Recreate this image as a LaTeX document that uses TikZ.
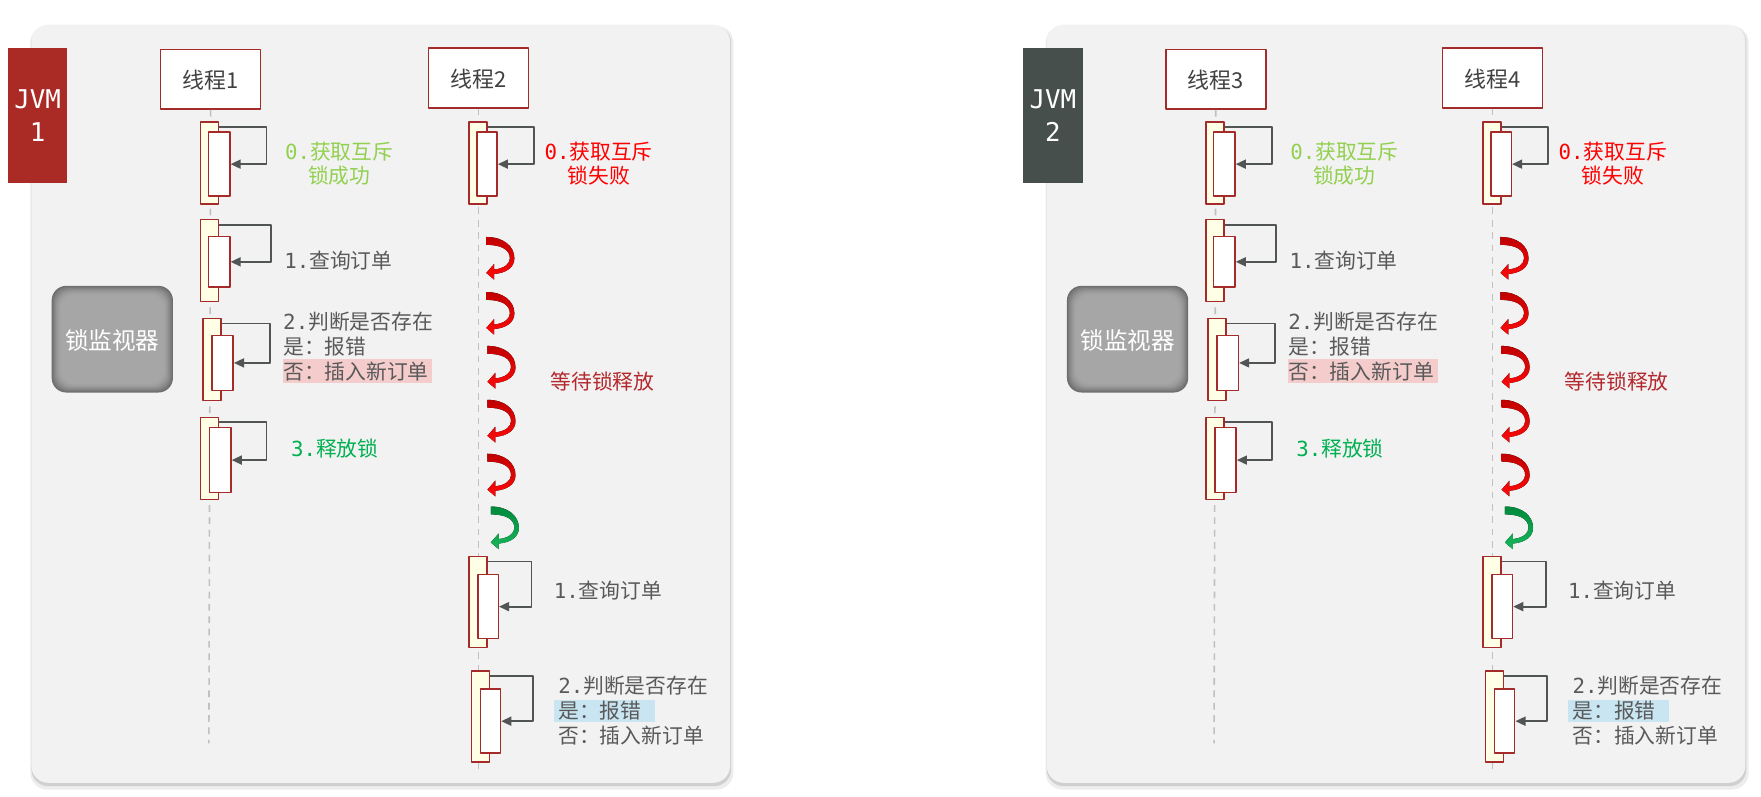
\documentclass[tikz,border=0pt]{standalone}
\usepackage{fontspec}
\setmainfont{Noto Sans CJK SC}
\newfontfamily\mono{DejaVu Sans Mono}
\usetikzlibrary{arrows.meta}
\definecolor{panelbg}{HTML}{F2F2F2}
\definecolor{jvmred}{HTML}{AA2A26}
\definecolor{jvmgray}{HTML}{474F4D}
\definecolor{boxred}{HTML}{A52A2A}
\definecolor{baryellow}{HTML}{FFFFE6}
\definecolor{loopgray}{HTML}{515555}
\definecolor{txtdark}{HTML}{404040}
\definecolor{txtgray}{HTML}{595959}
\definecolor{okgreen}{HTML}{92D050}
\definecolor{relgreen}{HTML}{00B050}
\definecolor{failred}{HTML}{FF0000}
\definecolor{waitbrown}{HTML}{B3282D}
\definecolor{pinkhl}{HTML}{F4CCCC}
\definecolor{bluehl}{HTML}{C9E5F1}
\definecolor{lifegray}{HTML}{C0C0C0}
\definecolor{arrdark}{HTML}{C00000}
\definecolor{arrred}{HTML}{FF0A0A}
\definecolor{grdark}{HTML}{00893C}
\definecolor{grlight}{HTML}{17B85C}
\definecolor{monlight}{HTML}{A6A6A6}
\definecolor{mondark}{HTML}{6E6E6E}
\begin{document}
\begin{tikzpicture}[x=1pt,y=-1pt,line join=round,
  jvm/.style={minimum width=53pt,minimum height=120pt,inner sep=0,text=white,align=center,font=\mono\fontsize{23}{30}\selectfont},
  thread/.style={draw=boxred,line width=1.5pt,fill=white,minimum width=89pt,minimum height=53pt,inner sep=0,text=txtdark,font=\fontsize{19.5}{22}\selectfont},
  lifeline/.style={draw=lifegray,line width=1.4pt,dash pattern=on 6pt off 5pt},
  outbar/.style={draw=boxred,fill=baryellow,line width=1.3pt,minimum width=16pt,inner sep=0,anchor=north west},
  inbar/.style={draw=boxred,fill=white,line width=1.3pt,inner sep=0,anchor=north west},
  selfloop/.style={draw=loopgray,line width=1.6pt,-{Triangle[length=9pt,width=8pt]}},
  lbl/.style={inner sep=0,align=left,anchor=west,text=txtgray,font=\fontsize{18.5}{22}\selectfont},
  monitor/.style={fill=mondark,rounded corners=13pt,minimum width=108pt,minimum height=95pt,text=white,font=\fontsize{21}{24}\selectfont,
    path picture={\foreach \i/\c in {1/20,2/38,3/54,4/68,5/80,6/90,7/97,8/100}
      \fill[monlight!\c!mondark,rounded corners=13pt] ([shift={(\i,\i)}]path picture bounding box.north west) rectangle ([shift={(-\i,-\i)}]path picture bounding box.south east);}}]
\useasboundingbox (0,0) rectangle (1568,709);
\foreach \p/\dp/\da/\db/\jc/\na/\nb in {1/0/0/0/jvmred/1/2,2/904/895/903/jvmgray/3/4}{
  % panel
  \fill[black,opacity=.07,rounded corners=15pt] (27+\dp,23) rectangle (653+\dp,703);
  \fill[black,opacity=.12,rounded corners=15pt] (28+\dp,23) rectangle (651+\dp,700);
  \fill[panelbg,rounded corners=15pt] (28+\dp,22) rectangle (650+\dp,697);
  \node[jvm,fill=\jc] (jvm\p) at (33.5+\dp,103) {JVM\\\p};
  \node[monitor] (mon\p) at (100+\dp,302) {锁监视器};
  % threads
  \node[thread] (th\p-a) at (187.5+\da,70.5) {线程\na};
  \node[thread] (th\p-b) at (426+\db,69.5) {线程\nb};
  \coordinate (end\p-a) at (186+\da,662);
  \coordinate (end\p-b) at (426+\db,685);
  \draw[lifeline] (th\p-a.south) -- (end\p-a);
  \draw[lifeline] (th\p-b.south) -- (end\p-b);
  \foreach \b/\x/\y/\h/\ix/\iy/\ih/\l in {a0/178/108/73/185/117/57/42,a1/178/195/73/185/210/45/46,a2/180/283/73/188/298/49/43,a3/178/371/73/186/380/58/42}{
    \node[outbar,minimum height=\h pt] (o\p-\b) at (\x+\da,\y) {};
    \node[inbar,minimum width=19pt,minimum height=\ih pt] (i\p-\b) at (\ix+\da,\iy) {};
    \draw[selfloop] ([yshift=-5pt]o\p-\b.north east) -- ++(\l,0) |- (i\p-\b.east);
  }
  \foreach \b/\x/\y/\h/\ix/\iy/\ih/\l in {b0/417/108/73/424/117/57/41,b4/417/495/81/425/511/57/39,b5/419/597/81/427/613/57/38}{
    \node[outbar,minimum height=\h pt] (o\p-\b) at (\x+\db,\y) {};
    \node[inbar,minimum width=18pt,minimum height=\ih pt] (i\p-\b) at (\ix+\db,\iy) {};
    \draw[selfloop] ([yshift=-5pt]o\p-\b.north east) -- ++(\l,0) |- (i\p-\b.east);
  }
  % waiting
  \foreach \x/\y/\ct/\cb in {433/211/arrdark/arrred,433/260/arrdark/arrred,434/308/arrdark/arrred,434/356/arrdark/arrred,434/404/arrdark/arrred,437/451/grdark/grlight}
    \fill[top color=\ct,bottom color=\cb,shift={(\x+\db,\y)}] (0,0) -- (0,7) .. controls (13,7) and (21,11) .. (21,19) .. controls (21,24) and (16,28) .. (7,29) -- (7,24) -- (0,32) -- (7,38) -- (7,33) .. controls (18,32) and (25,27) .. (25,19) .. controls (25,8) and (15,0) .. (0,0) -- cycle;
  % labels
  \fill[pinkhl] (252+\da,320) rectangle (385+\da,341);
  \fill[bluehl] (493+\db,623) rectangle (583+\db,643);
  \node[lbl,align=center,anchor=center,text=okgreen] (l\p-a0) at (302+\da,145) {{\mono 0.}获取互斥\\锁成功};
  \node[lbl] (l\p-a1) at (253+\da,231) {{\mono 1.}查询订单};
  \node[lbl] (l\p-a2) at (252+\da,308) {{\mono 2.}判断是否存在\\是：报错\\否：插入新订单};
  \node[lbl,text=relgreen] (l\p-a3) at (259+\da,399) {{\mono 3.}释放锁};
  \node[lbl,align=center,anchor=center,text=failred] (l\p-b0) at (533+\db,145) {{\mono 0.}获取互斥\\锁失败};
  \node[lbl,text=waitbrown] (wait\p) at (490+\db,339) {等待锁释放};
  \node[lbl] (l\p-b4) at (493+\db,525) {{\mono 1.}查询订单};
  \node[lbl] (l\p-b5) at (497+\db,632) {{\mono 2.}判断是否存在\\是：报错\\否：插入新订单};
}
\end{tikzpicture}
\end{document}
